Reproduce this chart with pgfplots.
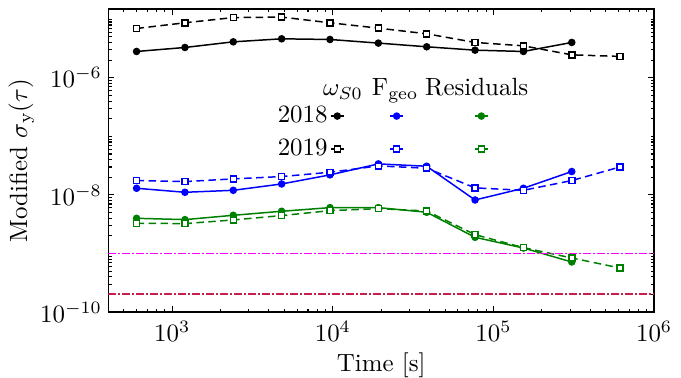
\documentclass[border=0pt]{standalone}
\usepackage{pgfplots}
\pgfplotsset{compat=1.18}
\definecolor{mplgreen}{rgb}{0,0.5,0}
\definecolor{mplblue}{rgb}{0,0,1}
\definecolor{refmagenta}{RGB}{255,0,255}
\definecolor{refcrimson}{RGB}{200,30,75}
\pgfplotstableread{
x y
600 2.82e-6
1200 3.30e-6
2400 4.12e-6
4800 4.64e-6
9600 4.52e-6
19200 3.92e-6
38400 3.39e-6
76800 2.97e-6
153600 2.82e-6
307200 4.02e-6
}\blackA
\pgfplotstableread{
x y
600 6.97e-6
1200 8.71e-6
2400 1.07e-5
4800 1.09e-5
9600 8.71e-6
19200 7.06e-6
38400 5.65e-6
76800 4.02e-6
153600 3.52e-6
307200 2.47e-6
614400 2.32e-6
}\blackB
\pgfplotstableread{
x y
600 1.30e-8
1200 1.11e-8
2400 1.20e-8
4800 1.54e-8
9600 2.20e-8
19200 3.39e-8
38400 3.09e-8
76800 8.2e-9
153600 1.30e-8
307200 2.51e-8
}\blueA
\pgfplotstableread{
x y
600 1.76e-8
1200 1.69e-8
2400 1.88e-8
4800 2.06e-8
9600 2.44e-8
19200 3.13e-8
38400 2.86e-8
76800 1.32e-8
153600 1.20e-8
307200 1.76e-8
614400 3.01e-8
}\blueB
\pgfplotstableread{
x y
600 3.99e-9
1200 3.79e-9
2400 4.49e-9
4800 5.26e-9
9600 6.07e-9
19200 6.07e-9
38400 5.06e-9
76800 1.89e-9
153600 1.24e-9
307200 7.16e-10
}\greenA
\pgfplotstableread{
x y
600 3.28e-9
1200 3.24e-9
2400 3.74e-9
4800 4.44e-9
9600 5.39e-9
19200 5.83e-9
38400 5.32e-9
76800 2.10e-9
153600 1.26e-9
307200 8.38e-10
614400 5.65e-10
}\greenB
\newcommand{\gapA}{\hspace*{16pt}}
\newcommand{\gapB}{\hspace*{26.2pt}}
\begin{document}
\begin{tikzpicture}
\begin{axis}[
  scale only axis, width=219pt, height=121.6pt,
  xmode=log, ymode=log,
  xmin=400, xmax=1e6, ymin=1e-10, ymax=1.5e-5,
  xtick={1e3,1e4,1e5,1e6},
  ytick={1e-10,1e-8,1e-6},
  minor xtick={500,600,700,800,900,2000,3000,4000,5000,6000,7000,8000,9000,20000,30000,40000,50000,60000,70000,80000,90000,200000,300000,400000,500000,600000,700000,800000,900000},
  minor ytick={2e-10,3e-10,4e-10,5e-10,6e-10,7e-10,8e-10,9e-10,1e-9,2e-9,3e-9,4e-9,5e-9,6e-9,7e-9,8e-9,9e-9,2e-8,3e-8,4e-8,5e-8,6e-8,7e-8,8e-8,9e-8,1e-7,2e-7,3e-7,4e-7,5e-7,6e-7,7e-7,8e-7,9e-7,2e-6,3e-6,4e-6,5e-6,6e-6,7e-6,8e-6,9e-6,1e-5},
  tick align=inside, xtick pos=both, ytick pos=both,
  major tick length=2.4pt, minor tick length=1.4pt,
  axis line style={line width=0.55pt},
  every tick/.style={black, line width=0.45pt},
  every tick label/.append style={inner sep=2.4pt},
  xticklabel style={yshift=-1pt},
  xlabel={Time [s]},
  ylabel={Modified $\sigma_{\mathrm{y}}(\tau)$},
  xlabel style={inner sep=0pt},
  xlabel shift=2.1pt,
  ylabel shift=-3.5pt,
  legend columns=3,
  legend plot pos=right,
  legend style={draw=none, fill=none, at={(axis description cs:0.305,0.69)}, anchor=north west,
    inner sep=0pt, column sep=0pt, row sep=3.0pt, nodes={inner sep=1pt}},
  legend image code/.code={\draw[#1, solid, mark repeat=2, mark phase=2] plot coordinates {(-2.6pt,0pt)(0pt,0pt)(2.6pt,0pt)};},
  every axis plot/.append style={line width=0.6pt},
]
\addplot[black, solid, mark=*, mark size=1.2pt] table[x=x,y=y] {\blackA};
\addlegendentry{2018}
\addplot[mplblue, solid, mark=*, mark size=1.2pt] table[x=x,y=y] {\blueA};
\addlegendentry{\gapA}
\addplot[mplgreen, solid, mark=*, mark size=1.2pt] table[x=x,y=y] {\greenA};
\addlegendentry{\gapB}
\addplot[black, dash pattern=on 3pt off 1.8pt, mark=square*, mark size=1.2pt, mark options={solid, fill=white}] table[x=x,y=y] {\blackB};
\addlegendentry{2019}
\addplot[mplblue, dash pattern=on 3pt off 1.8pt, mark=square*, mark size=1.2pt, mark options={solid, fill=white}] table[x=x,y=y] {\blueB};
\addlegendentry{}
\addplot[mplgreen, dash pattern=on 3pt off 1.8pt, mark=square*, mark size=1.2pt, mark options={solid, fill=white}] table[x=x,y=y] {\greenB};
\addlegendentry{}
\addplot[draw=refmagenta, line width=0.75pt, dash pattern=on 3.2pt off 0.8pt on 0.8pt off 0.8pt, forget plot] coordinates {(400,1e-9)(1e6,1e-9)};
\addplot[draw=refcrimson, line width=0.75pt, dash pattern=on 3.2pt off 0.8pt on 0.8pt off 0.8pt, forget plot] coordinates {(400,2e-10)(1e6,2e-10)};
\node[anchor=base] at (axis description cs:0.43,0.714) {$\omega_{S0}$};
\node[anchor=base] at (axis description cs:0.5255,0.714) {F$_{\mathrm{geo}}$};
\node[anchor=base] at (axis description cs:0.675,0.714) {Residuals};
\coordinate (bbl) at (axis description cs:-0.1934,-0.217);
\coordinate (btr) at (axis description cs:1.0493,1.0296);
\end{axis}
\path (bbl) rectangle (btr);
\end{tikzpicture}
\end{document}
